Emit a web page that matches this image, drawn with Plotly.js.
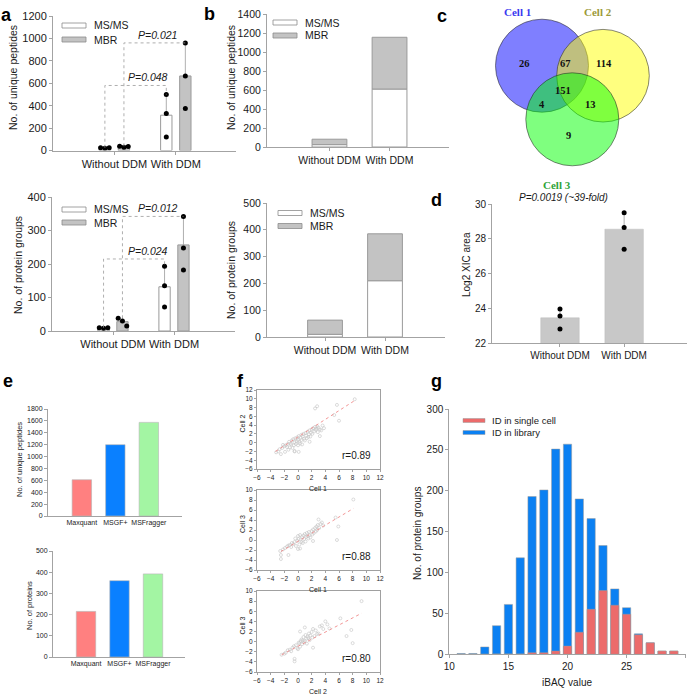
<!DOCTYPE html>
<html>
<head>
<meta charset="utf-8">
<script src="https://cdn.plot.ly/plotly-3.0.1.min.js"></script>
<style>
  html, body { margin: 0; padding: 0; background: #fff; }
  #fig { width: 691px; height: 695px; }
</style>
</head>
<body>
<div id="fig"></div>
<script>
// ---------- data ----------
const ddmCats = ['Without DDM', 'With DDM'];

// a: unique peptides / protein groups, three single cells per condition
const aPepMsms = [22, 315];
const aPepMbr = [33, 665];
const aPepMsmsSd = [3, 190];
const aPepMbrSd = [4, 292];
const aPepMsmsPts = [[25, 20, 25], [500, 330, 120]];
const aPepMbrPts = [[38, 30, 35], [960, 665, 375]];
const aPepPText = ['P=0.048', 'P=0.021'];
const aPepPLevel = [580, 960];

const aProtMsms = [10, 132];
const aProtMbr = [28, 257];
const aProtMsmsSd = [1, 61];
const aProtMbrSd = [12, 85];
const aProtMsmsPts = [[10, 8, 10], [193, 135, 72]];
const aProtMbrPts = [[38, 30, 15], [342, 248, 182]];
const aProtPText = ['P=0.024', 'P=0.012'];
const aProtPLevel = [215, 342];

// b: stacked MS/MS + MBR
const bPepMsms = [25, 610];
const bPepMbr = [57, 545];
const bProtMsms = [10, 210];
const bProtMbr = [53, 175];

// c: venn
const vennLabels = ['Cell 1', 'Cell 2', 'Cell 3'];
const vennRegions = ['1', '12', '2', '123', '13', '23', '3'];
const vennCounts = [26, 67, 114, 151, 4, 13, 9];

// d: log2 XIC area
const dMean = [23.45, 28.55];
const dSd = [0.5, 0.95];
const dPts = [[23.95, 23.55, 22.8], [29.5, 28.65, 27.4]];
const dTitle = 'P=0.0019 (~39-fold)';

// e: search engines
const eTools = ['Maxquant', 'MSGF+', 'MSFragger'];
const ePeptides = [610, 1200, 1575];
const eProteins = [215, 360, 392];

// f: cell-to-cell correlation
const f1X = [-3.2,-2.9,-2.7,-2.5,-2.3,-2.2,-2.0,-1.9,-1.8,-1.6,-1.5,-1.4,-1.3,-1.2,-1.1,-1.0,-0.9,-0.8,-0.7,-0.6,-0.5,-0.5,-0.4,-0.3,-0.2,-0.1,0.0,0.0,0.1,0.2,0.3,0.4,0.5,0.5,0.6,0.7,0.8,0.9,1.0,1.1,1.2,1.3,1.4,1.5,1.6,1.7,1.8,1.9,2.0,2.1,2.2,2.4,2.5,2.6,2.7,2.8,2.9,3.0,3.2,3.4,3.6,3.8,1.7,3.2,0.1,-0.5,2.5,2.8,5.3,5.7,6.0,8.3];
const f1Y = [-2.2,-2.0,-1.5,-2.6,-1.2,-0.5,-0.8,-2.1,-0.6,-1.0,-0.3,-1.6,0.2,-1.1,-0.2,-0.4,0.5,-1.2,0.8,-0.6,0.1,-1.9,1.0,-0.3,0.3,1.2,-0.6,0.6,1.5,0.2,-0.2,1.1,1.8,0.6,-0.4,1.4,2.0,0.9,0.5,2.2,1.6,1.0,2.5,1.3,1.9,2.8,1.4,2.3,3.0,2.0,3.3,2.6,3.6,2.9,3.2,3.7,2.4,3.4,3.0,2.8,3.9,3.3,0.2,1.5,-2.1,-2.0,7.8,8.3,6.3,8.6,5.0,9.9];
const f1FitX = [-3.3, 8.3];
const f1FitY = [-2.0, 9.6];
const f2X = [-2.6,-2.5,-2.5,-2.2,-1.9,-1.6,-1.4,-1.2,-1.0,-0.9,-0.7,-0.5,-0.4,-0.3,-0.1,0.0,0.1,0.2,0.3,0.4,0.5,0.6,0.7,0.8,0.9,1.0,1.1,1.2,1.3,1.4,1.5,1.6,1.7,1.8,2.0,2.1,2.2,2.3,2.5,2.6,2.7,2.8,2.9,3.0,3.1,3.3,3.5,3.7,0.0,-1.4,2.2,0.3,5.5,5.7,5.9,8.1];
const f2Y = [-2.2,-3.8,-3.0,-1.9,-1.6,-1.3,-3.0,-1.0,-1.4,-0.6,-0.8,-0.4,0.3,-1.2,-0.2,-1.8,0.2,-0.9,1.0,0.1,-0.4,0.6,-0.6,0.9,0.2,1.2,-0.3,0.6,1.4,0.8,0.3,1.6,1.0,0.5,1.8,1.1,2.1,1.4,2.4,1.7,2.7,2.0,3.0,4.1,2.4,3.2,3.5,2.9,0.8,-1.1,-0.2,-1.7,4.5,0.0,2.7,8.1];
const f2FitX = [-2.5, 8.1];
const f2FitY = [-2.3, 6.3];
const f3X = [-2.4,-2.0,-1.8,-1.5,-1.2,-1.0,-0.8,-0.6,-0.5,-0.5,-0.3,-0.1,0.0,0.1,0.2,0.3,0.4,0.5,0.6,0.7,0.8,0.9,1.0,1.1,1.2,1.3,1.4,1.5,1.6,1.7,1.8,2.0,2.1,2.2,2.4,2.6,2.8,3.0,3.2,3.5,3.7,4.0,4.3,4.6,1.0,0.3,2.2,6.2,7.1,7.8,8.0,9.3];
const f3Y = [-2.6,-2.4,-2.2,-1.7,-1.6,-1.9,-1.2,-0.9,-3.4,-3.9,-0.7,-1.3,-1.5,-0.2,-0.3,-1.0,0.1,0.4,-0.5,0.2,0.9,-0.2,0.1,1.3,0.6,-0.4,1.0,0.7,1.6,0.3,1.2,1.9,0.8,-1.2,1.1,2.2,1.5,1.6,3.0,3.2,2.5,4.0,3.4,2.6,2.8,2.0,2.5,4.6,1.1,2.3,-0.3,8.0];
const f3FitX = [-2.4, 9.3];
const f3FitY = [-2.6, 5.6];
const fR = ['r=0.89', 'r=0.88', 'r=0.80'];
const fXLabels = ['Cell 1', 'Cell 1', 'Cell 2'];
const fYLabels = ['Cell 2', 'Cell 3', 'Cell 3'];

// g: iBAQ histogram
const gBins = [11, 12, 13, 14, 15, 16, 17, 18, 19, 20, 21, 22, 23, 24, 25, 26, 27, 28, 29];
const gLibrary = [1, 1, 9, 35, 61, 118, 193, 201, 251, 257, 190, 166, 133, 80, 57, 25, 14, 4, 4];
const gSingle = [0, 0, 0, 0.5, 0.5, 0.5, 2, 2, 4, 10, 27, 55, 78, 60, 49, 24, 14, 4, 4];
const gSeries = ['ID in single cell', 'ID in library'];

// ---------- helpers ----------
const W = 691, H = 695;
const FONT = 'Liberation Sans, Arial, sans-serif';
const SERIF = 'Liberation Serif, Times New Roman, serif';
const LINE = '#a3a3a3';
const MBR_FILL = '#c3c3c3';
const TXT = '#1a1a1a';

const px = x => x / W;
const py = y => 1 - y / H;
const domX = (l, r) => [px(l), px(r)];
const domY = (t, b) => [py(b), py(t)];

function axis(extra, size) {
  return Object.assign({
    showgrid: false, zeroline: false, showline: true,
    linecolor: LINE, linewidth: 1,
    ticks: 'outside', ticklen: 3, tickwidth: 1, tickcolor: LINE,
    tickfont: { family: FONT, size: size || 10.5, color: TXT },
    tickangle: 0, fixedrange: true
  }, extra);
}

const traces = [];
const shapes = [];
const annotations = [];

function note(text, x, y, size, opts) {
  annotations.push(Object.assign({
    text: text, x: px(x), y: py(y), xref: 'paper', yref: 'paper',
    showarrow: false, xanchor: 'center', yanchor: 'middle',
    font: { family: FONT, size: size, color: TXT }
  }, opts || {}));
}

function legendItem(x, y, fill, label, size) {
  shapes.push({
    type: 'rect', xref: 'paper', yref: 'paper',
    x0: px(x), x1: px(x + 24), y0: py(y + 2.5), y1: py(y - 2.5),
    fillcolor: fill, line: { color: '#8c8c8c', width: 0.8 }
  });
  note(label, x + 30, y, size, { xanchor: 'left' });
}

// ---------- a ----------
function panelA(n, msms, mbr, msmsSd, mbrSd, msmsPts, mbrPts, pText, pLevel, pTextX) {
  const xa = 'x' + (n === 1 ? '' : n), ya = 'y' + (n === 1 ? '' : n);
  const off = 0.155, w = 0.185;
  const pos = ddmCats.map((c, i) => i + 1);
  const jitter = [[-0.07, 0, 0.07], [0, 0, 0]];
  const series = [
    { y: msms, sd: msmsSd, pts: msmsPts, side: -1, fill: '#ffffff' },
    { y: mbr, sd: mbrSd, pts: mbrPts, side: 1, fill: MBR_FILL }
  ];
  series.forEach(s => {
    traces.push({
      type: 'bar', xaxis: xa, yaxis: ya,
      x: pos.map(p => p + s.side * off), y: s.y, width: w,
      marker: { color: s.fill, line: { color: '#9a9a9a', width: 1 } },
      error_y: { type: 'data', symmetric: false, array: s.sd, arrayminus: [0, 0],
                 color: '#9a9a9a', thickness: 0.8, width: 0 },
      hoverinfo: 'skip'
    });
  });
  series.forEach((s, si) => {
    const xs = [], ys = [];
    s.pts.forEach((grp, g) => grp.forEach((v, k) => {
      xs.push(pos[g] + s.side * off + jitter[g][k]);
      ys.push(v);
    }));
    traces.push({
      type: 'scatter', mode: 'markers', xaxis: xa, yaxis: ya, x: xs, y: ys,
      marker: { color: '#000', size: 5 }, hoverinfo: 'skip'
    });
    // significance bracket
    const x0 = pos[0] + s.side * off, x1 = pos[1] + s.side * off;
    const y0 = Math.max(...s.pts[0]);
    const yEnd = Math.max(...s.pts[1]);
    shapes.push({
      type: 'path', xref: xa, yref: ya,
      path: `M ${x0},${y0} L ${x0},${pLevel[si]} L ${x1},${pLevel[si]} L ${x1},${yEnd}`,
      line: { color: '#9a9a9a', width: 0.8, dash: 'dot' }
    });
    annotations.push({
      text: `<i>${pText[si]}</i>`, xref: xa, yref: ya, x: pTextX[si], y: pLevel[si],
      xanchor: 'center', yanchor: 'bottom', showarrow: false,
      font: { family: FONT, size: 10.5, color: TXT }
    });
  });
}

panelA(1, aPepMsms, aPepMbr, aPepMsmsSd, aPepMbrSd, aPepMsmsPts, aPepMbrPts, aPepPText, aPepPLevel, [1.555, 1.70]);
panelA(2, aProtMsms, aProtMbr, aProtMsmsSd, aProtMbrSd, aProtMsmsPts, aProtMbrPts, aProtPText, aProtPLevel, [1.566, 1.73]);
legendItem(62, 25.5, '#ffffff', 'MS/MS', 10.5);
legendItem(62, 39.5, MBR_FILL, 'MBR', 10.5);
legendItem(62, 209.5, '#ffffff', 'MS/MS', 10.5);
legendItem(62, 222.5, MBR_FILL, 'MBR', 10.5);
note('No. of unique peptides', 13, 78, 10.5, { textangle: -90 });
note('No. of protein groups', 18, 265, 10.5, { textangle: -90 });

// ---------- b ----------
[[3, bPepMsms, bPepMbr], [4, bProtMsms, bProtMbr]].forEach(([n, msms, mbr]) => {
  traces.push({
    type: 'bar', xaxis: 'x' + n, yaxis: 'y' + n, x: ddmCats, y: msms, width: 0.58,
    marker: { color: '#ffffff', line: { color: '#9a9a9a', width: 1 } }, hoverinfo: 'skip'
  });
  traces.push({
    type: 'bar', xaxis: 'x' + n, yaxis: 'y' + n, x: ddmCats, y: mbr, base: msms, width: 0.58,
    marker: { color: MBR_FILL, line: { color: '#9a9a9a', width: 1 } }, hoverinfo: 'skip'
  });
});
legendItem(273, 22.5, '#ffffff', 'MS/MS', 10.5);
legendItem(273, 35.5, MBR_FILL, 'MBR', 10.5);
legendItem(278, 213, '#ffffff', 'MS/MS', 10.5);
legendItem(278, 226, MBR_FILL, 'MBR', 10.5);
note('No. of unique peptides', 231, 77, 10.5, { textangle: -90 });
note('No. of protein groups', 231, 270, 10.5, { textangle: -90 });

// ---------- c (venn) ----------
const vennCircles = [
  { cx: 542, cy: 65.7, r: 46.5, fill: 'rgba(0,0,255,0.5)' },
  { cx: 603, cy: 75.7, r: 46.3, fill: 'rgba(255,255,0,0.5)' },
  { cx: 572.3, cy: 119.3, r: 46.5, fill: 'rgba(0,255,0,0.5)' }
];
vennCircles.forEach(c => shapes.push({
  type: 'circle', xref: 'paper', yref: 'paper',
  x0: px(c.cx - c.r), x1: px(c.cx + c.r), y0: py(c.cy + c.r), y1: py(c.cy - c.r),
  fillcolor: c.fill, line: { color: 'rgba(40,40,40,0.7)', width: 0.8 }
}));
const vennPos = { '1': [532, 56], '12': [573, 56], '2': [614, 56], '123': [573, 83],
                  '13': [547, 97], '23': [598, 97], '3': [573, 128] };
vennRegions.forEach((reg, i) => {
  const p = vennPos[reg];
  annotations.push({
    text: `<b>${vennCounts[i]}</b>`, x: px(p[0]), y: py(p[1]), xref: 'paper', yref: 'paper',
    showarrow: false, font: { family: SERIF, size: 10.5, color: '#111' }
  });
});
const vennLabelPos = [[532, 5, '#3a3af0'], [613, 5, '#9c9a3a'], [572, 178, '#2fa43a']];
vennLabels.forEach((lab, i) => {
  const p = vennLabelPos[i];
  annotations.push({
    text: `<b>${lab}</b>`, x: px(p[0]), y: py(p[1]), xref: 'paper', yref: 'paper',
    showarrow: false, borderpad: 0, font: { family: SERIF, size: 11, color: p[2] }
  });
});

// ---------- d ----------
traces.push({
  type: 'bar', xaxis: 'x5', yaxis: 'y5', x: ddmCats, y: dMean, width: 0.6,
  marker: { color: '#c8c8c8', line: { color: '#bdbdbd', width: 0.5 } },
  error_y: { type: 'data', symmetric: false, array: dSd, arrayminus: [0, 0],
             color: '#9a9a9a', thickness: 0.8, width: 0 },
  hoverinfo: 'skip'
});
traces.push({
  type: 'scatter', mode: 'markers', xaxis: 'x5', yaxis: 'y5',
  x: dPts.flatMap((g, i) => g.map(() => ddmCats[i])), y: dPts.flat(),
  marker: { color: '#000', size: 5 }, hoverinfo: 'skip'
});
note(`<i>${dTitle}</i>`, 563, 197, 10, { borderpad: 0 });
note('Log2 XIC area', 467, 264, 10, { textangle: -90 });

// ---------- e ----------
const eColors = ['#ff8080', '#0a80ff', '#a3f5a3'];
[[6, ePeptides], [7, eProteins]].forEach(([n, vals]) => {
  traces.push({
    type: 'bar', xaxis: 'x' + n, yaxis: 'y' + n, x: eTools, y: vals, width: 0.58,
    marker: { color: eColors, line: { color: '#b5b5b5', width: 0.6 } }, hoverinfo: 'skip'
  });
});
note('No. of unique peptides', 19, 460, 7.5, { textangle: -90 });
note('No. of proteins', 29, 606, 7.5, { textangle: -90 });

// ---------- f ----------
const fSets = [[f1X, f1Y, f1FitX, f1FitY], [f2X, f2Y, f2FitX, f2FitY], [f3X, f3Y, f3FitX, f3FitY]];
const fBoxes = [[390, 469], [490, 570], [591, 672]];
fSets.forEach((s, i) => {
  const n = 8 + i;
  traces.push({
    type: 'scatter', mode: 'markers', xaxis: 'x' + n, yaxis: 'y' + n, x: s[0], y: s[1],
    marker: { symbol: 'circle-open', size: 3, color: '#c2c2c2', line: { width: 0.6 } },
    hoverinfo: 'skip'
  });
  traces.push({
    type: 'scatter', mode: 'lines', xaxis: 'x' + n, yaxis: 'y' + n, x: s[2], y: s[3],
    line: { color: '#f08a8a', width: 0.9, dash: 'dot' }, hoverinfo: 'skip'
  });
  annotations.push({
    text: fR[i], xref: `x${n} domain`, yref: `y${n} domain`, x: 0.945, y: 0.17,
    xanchor: 'right', yanchor: 'middle', showarrow: false,
    font: { family: FONT, size: 10, color: TXT }
  });
  const [top, bot] = fBoxes[i];
  note(fXLabels[i], 318, bot + 19.5, 7);
  note(fYLabels[i], 242, (top + bot) / 2 - 6, 7, { textangle: -90 });
});

// ---------- g ----------
traces.push({
  type: 'bar', xaxis: 'x11', yaxis: 'y11', x: gBins, y: gLibrary, width: 0.7, name: gSeries[1],
  marker: { color: '#0b80f2', line: { color: '#9a9a9a', width: 0.5 } }, hoverinfo: 'skip'
});
traces.push({
  type: 'bar', xaxis: 'x11', yaxis: 'y11', x: gBins, y: gSingle, width: 0.7, name: gSeries[0],
  marker: { color: '#ec6b6b', line: { color: '#9a9a9a', width: 0.5 } }, hoverinfo: 'skip'
});
[[420.5, '#ec6b6b', gSeries[0]], [432.5, '#0b80f2', gSeries[1]]].forEach(([y, c, lab]) => {
  shapes.push({
    type: 'rect', xref: 'paper', yref: 'paper',
    x0: px(463), x1: px(485), y0: py(y + 2), y1: py(y - 2),
    fillcolor: c, line: { color: '#9a9a9a', width: 0.5 }
  });
  note(lab, 490, y, 9.5, { xanchor: 'left' });
});
note('No. of protein groups', 417, 533, 10, { textangle: -90 });
note('iBAQ value', 567, 682, 10);

// ---------- panel letters ----------
[['a', 6, 15], ['b', 209, 14], ['c', 442, 16], ['d', 437, 200],
 ['e', 8, 381], ['f', 241, 381], ['g', 437, 381]].forEach(([t, x, y]) => {
  note(`<b>${t}</b>`, x, y, 18, { font: { family: FONT, size: 18, color: '#000' } });
});

// ---------- layout ----------
const layout = {
  width: W, height: H, margin: { l: 0, r: 0, t: 0, b: 0 },
  paper_bgcolor: '#fff', plot_bgcolor: 'rgba(0,0,0,0)',
  showlegend: false, barmode: 'overlay',
  // a
  xaxis: axis({ domain: domX(53, 236), range: [0, 2.98], tickvals: [1, 2], ticktext: ddmCats, anchor: 'y' }, 11),
  yaxis: axis({ domain: domY(16, 150.5), range: [0, 1200], dtick: 200, anchor: 'x' }, 11),
  xaxis2: axis({ domain: domX(52, 235), range: [0, 3.0], tickvals: [1, 2], ticktext: ddmCats, anchor: 'y2' }, 11),
  yaxis2: axis({ domain: domY(197, 331), range: [0, 400], dtick: 100, anchor: 'x2' }, 11),
  // b
  xaxis3: axis({ domain: domX(267, 449), range: [-1.04, 1.99], type: 'category', anchor: 'y3' }),
  yaxis3: axis({ domain: domY(14, 147), range: [0, 1400], dtick: 200, anchor: 'x3' }),
  xaxis4: axis({ domain: domX(267, 445), range: [-0.967, 2.0], type: 'category', anchor: 'y4' }),
  yaxis4: axis({ domain: domY(203, 337), range: [0, 500], dtick: 100, anchor: 'x4' }),
  // d
  xaxis5: axis({ domain: domX(492, 687), range: [-1.06, 1.98], type: 'category', anchor: 'y5' }, 10),
  yaxis5: axis({ domain: domY(204, 343), range: [22, 30], dtick: 2, anchor: 'x5' }, 10),
  // e
  xaxis6: axis({ domain: domX(48, 182), range: [-1.01, 2.99], type: 'category', anchor: 'y6', ticks: '' }, 7),
  yaxis6: axis({ domain: domY(409, 516), range: [0, 1800], dtick: 200, anchor: 'x6' }, 7),
  xaxis7: axis({ domain: domX(53, 185), range: [-0.985, 2.955], type: 'category', anchor: 'y7', ticks: '' }, 7),
  yaxis7: axis({ domain: domY(551, 657), range: [0, 500], dtick: 100, anchor: 'x7' }, 7),
  // g
  xaxis11: axis({ domain: domX(449.3, 685.7), range: [9.999, 30.001], tickvals: [10, 15, 20, 25, 30], anchor: 'y11' }, 10),
  yaxis11: axis({ domain: domY(409, 654.3), range: [0, 300], dtick: 50, anchor: 'x11' }, 10),
  shapes: shapes,
  annotations: annotations
};
// f
fBoxes.forEach((b, i) => {
  const n = 8 + i;
  layout['xaxis' + n] = axis({ domain: domX(257, 380), range: [-6, 12], dtick: 2, anchor: 'y' + n,
    mirror: true, ticklen: 2, linecolor: '#a0a0a0' }, 6.5);
  layout['yaxis' + n] = axis({ domain: domY(b[0], b[1]), range: i === 0 ? [-6, 12] : [-6, 10], dtick: 2,
    anchor: 'x' + n, mirror: true, ticklen: 2, linecolor: '#a0a0a0' }, 6.5);
});

Plotly.newPlot('fig', traces, layout, { displayModeBar: false, staticPlot: true });
</script>
</body>
</html>
